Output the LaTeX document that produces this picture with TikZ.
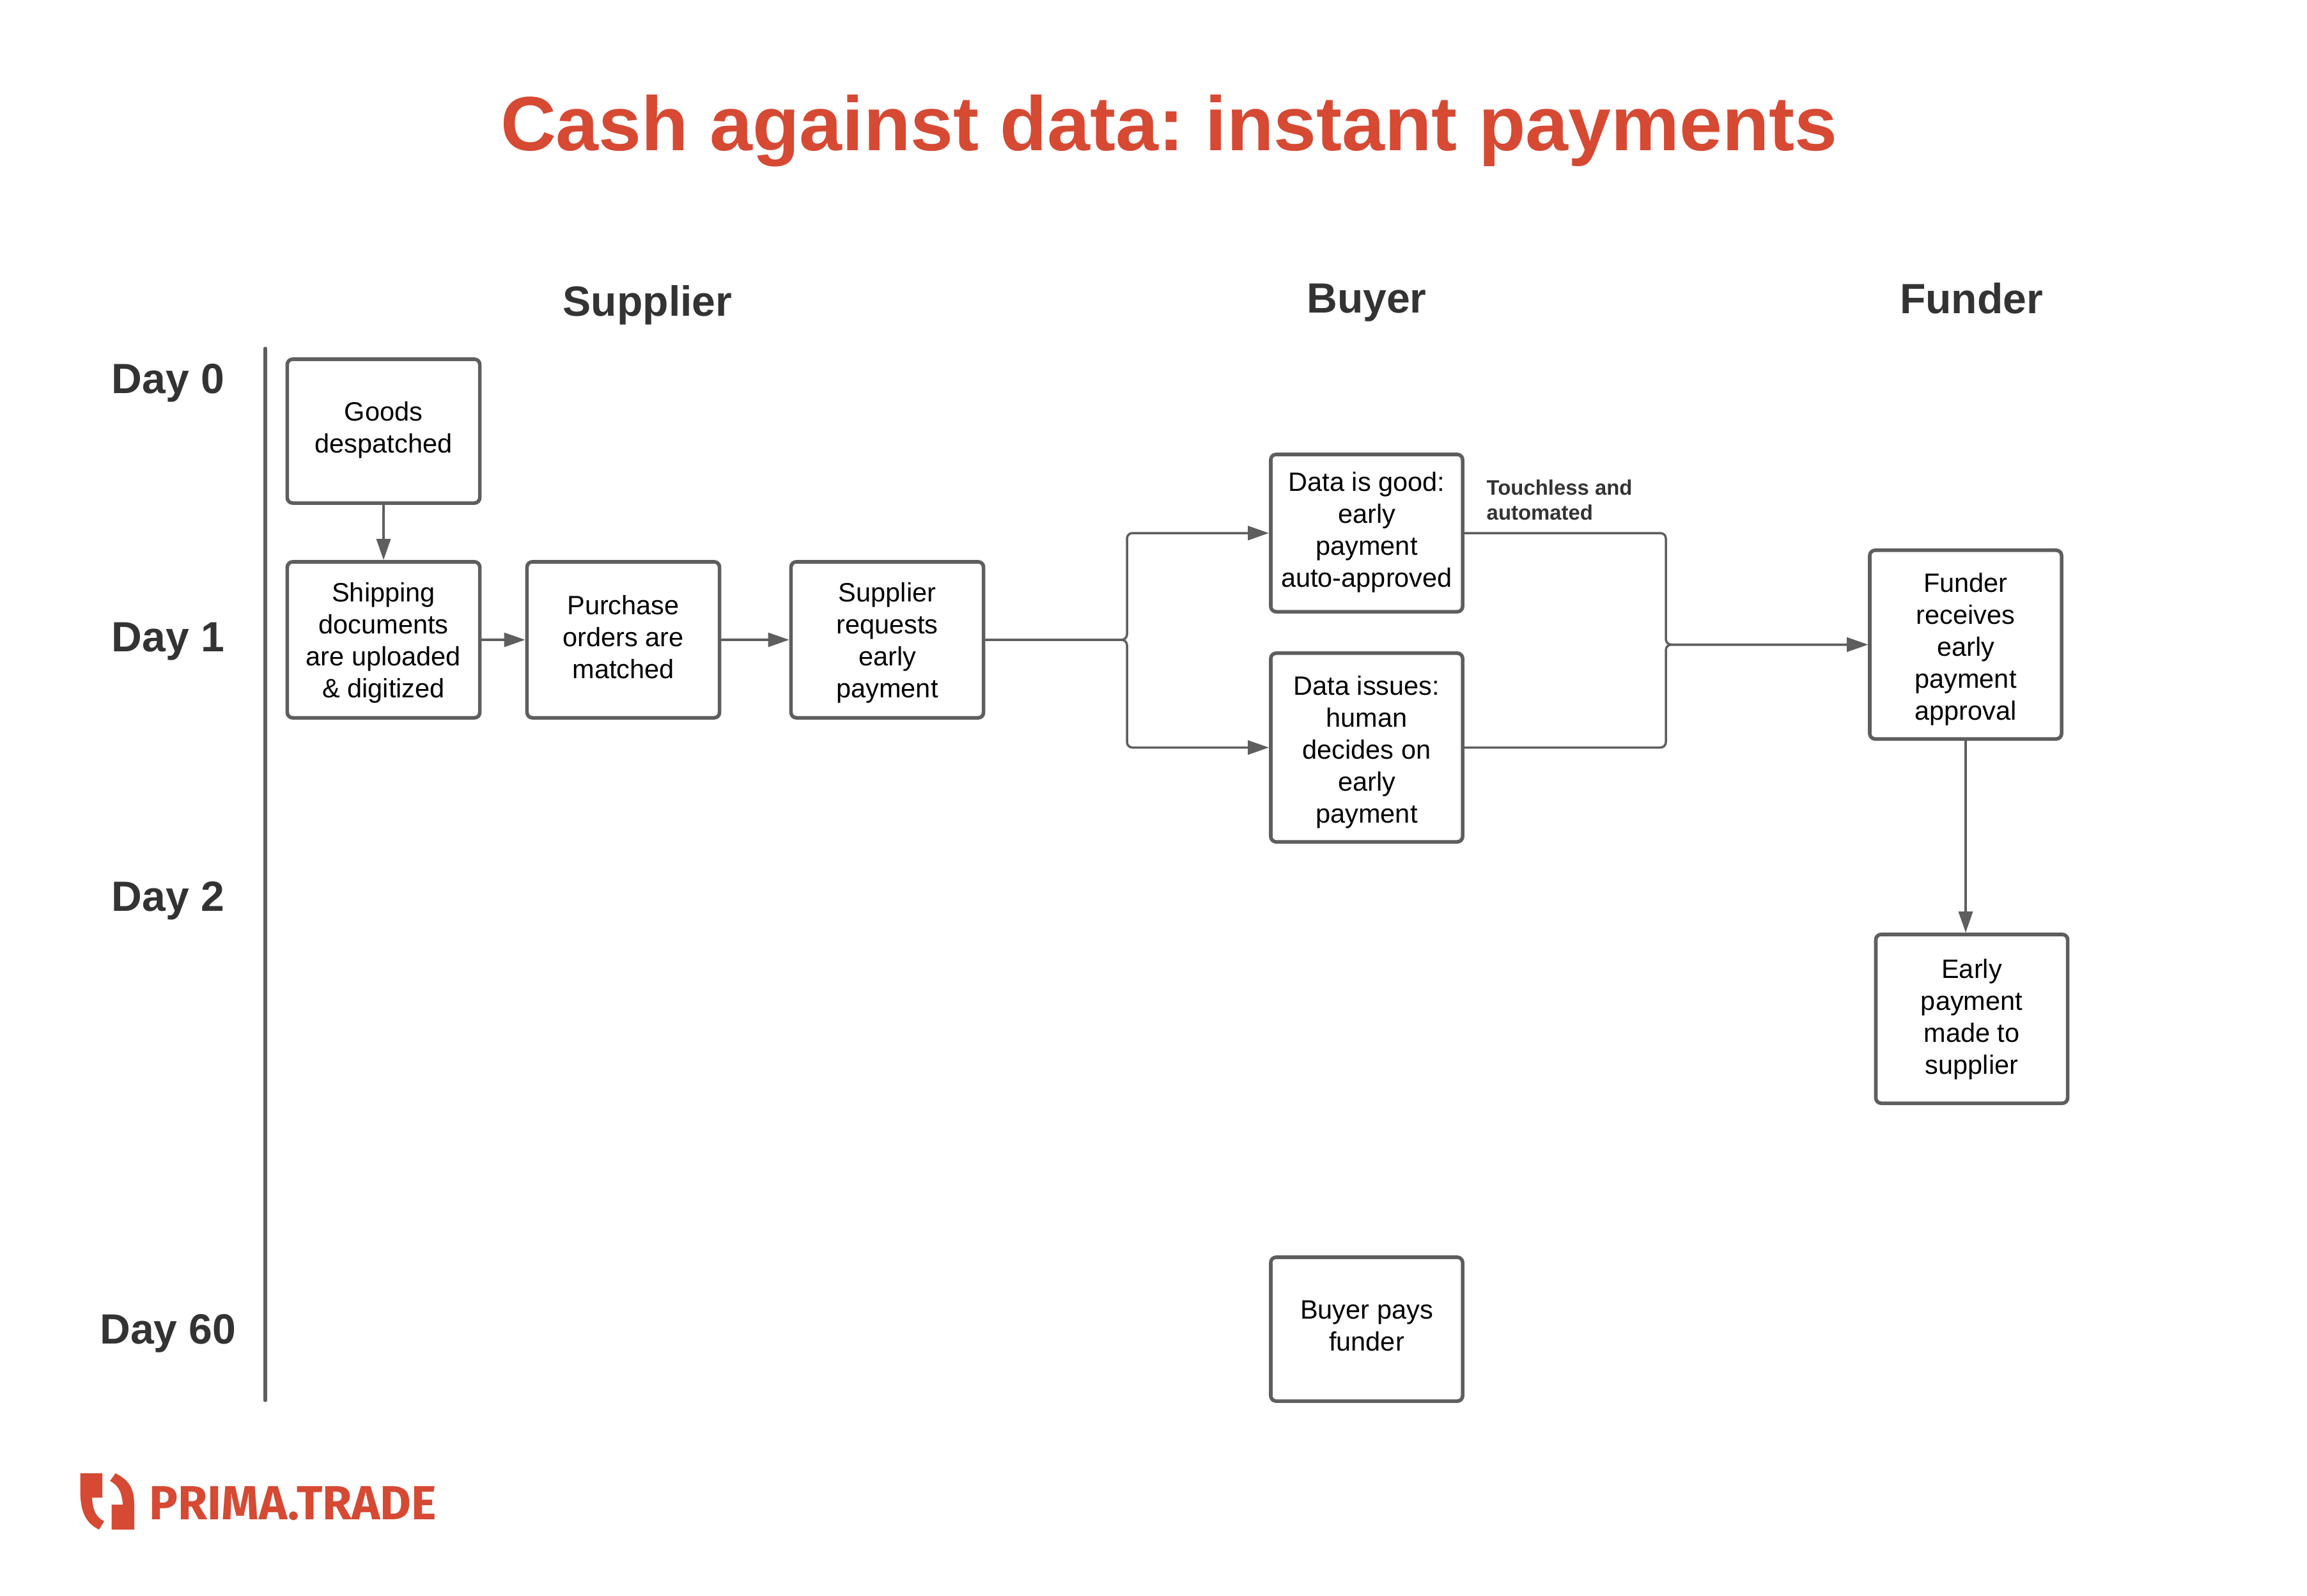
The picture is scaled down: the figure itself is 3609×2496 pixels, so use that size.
\documentclass[tikz,border=0pt]{standalone}
\usepackage{fontspec}
\setmainfont{Liberation Sans}
\newfontfamily\logofont{Fira Sans}
\usetikzlibrary{arrows.meta}
\definecolor{brandred}{HTML}{D64933}
\definecolor{linegray}{HTML}{5E5E5E}
\definecolor{headtext}{HTML}{333333}
\newcommand{\shiftup}[1]{\rule[-#1]{0pt}{#1}}
\newcommand{\pushdown}[1]{\rule{0pt}{\dimexpr8.6pt+2\dimexpr#1\relax\relax}}
\tikzset{
  boxnode/.style={draw=linegray,line width=1.6pt,rounded corners=2.4pt,fill=white,align=center,inner sep=0pt,text=black,
    font=\fontsize{11.8pt}{14.2pt}\selectfont},
  conn/.style={draw=linegray,line width=1pt,rounded corners=2.4pt},
  arr/.style={conn,-{Triangle[length=.33cm,width=.22cm]}},
  dayhead/.style={text=headtext,font=\fontsize{18.8pt}{22pt}\selectfont\bfseries,inner sep=0pt},
}
\begin{document}
\frenchspacing
\begin{tikzpicture}[x=0.01cm,y=-0.01cm]
\useasboundingbox (0,0) rectangle (3609,2496);
\node[text=brandred,font=\fontsize{34.2pt}{40pt}\selectfont\bfseries,inner sep=0pt] (title) at (1829,205) {Cash against data: instant payments};

\node[dayhead] (h1) at (1013,477) {Supplier};
\node[dayhead] (h2) at (2138,474) {Buyer};
\node[dayhead] (h3) at (3084,467) {Funder};
\node[dayhead] (d0) at (263,599) {Day 0};
\node[dayhead] (d1) at (263,1004) {Day 1};
\node[dayhead] (d2) at (263,1409) {Day 2};
\node[dayhead] (d60) at (263,2086) {Day 60};

\coordinate (axtop) at (415,545);
\coordinate (axbot) at (415,2191);
\draw[draw=linegray,line width=1.45pt,line cap=round] (axtop) -- (axbot);

\node[boxnode,minimum width=3.01cm,minimum height=2.25cm] (goods) at (600,674.5) {Goods\\despatched\shiftup{3.6pt}};
\node[boxnode,minimum width=3.01cm,minimum height=2.44cm] (ship) at (600,1001) {\pushdown{1.3pt}Shipping\\documents\\are uploaded\\\& digitized};
\node[boxnode,minimum width=3.01cm,minimum height=2.44cm] (po) at (975,1001) {Purchase\\orders are\\matched\shiftup{2.6pt}};
\node[boxnode,minimum width=3.01cm,minimum height=2.44cm] (req) at (1388,1001) {\pushdown{1.3pt}Supplier\\requests\\early\\payment};
\node[boxnode,minimum width=3cm,minimum height=2.46cm] (good) at (2138,834) {Data is good:\\early\\payment\\auto-approved\shiftup{3pt}};
\node[boxnode,minimum width=3cm,minimum height=2.95cm] (issues) at (2138,1169.5) {\pushdown{2pt}Data issues:\\human\\decides on\\early\\payment};
\node[boxnode,minimum width=3cm,minimum height=2.95cm] (fund) at (3075,1008.5) {\pushdown{2pt}Funder\\receives\\early\\payment\\approval};
\node[boxnode,minimum width=3cm,minimum height=2.64cm] (early) at (3084.5,1594) {\pushdown{0.3pt}Early\\payment\\made to\\supplier};
\node[boxnode,minimum width=3cm,minimum height=2.25cm] (pays) at (2138,2079.5) {Buyer pays\\funder\shiftup{3pt}};

\node[anchor=north west,align=left,inner sep=0pt,text=headtext,font=\fontsize{9.35pt}{11.1pt}\selectfont\bfseries] (touch) at (2325,750) {Touchless and\\automated};

\coordinate (fork) at (1763,1001);
\coordinate (join) at (2606,1008.5);

\draw[arr] (goods.south) -- (ship.north);
\draw[arr] (ship.east) -- (po.west);
\draw[arr] (po.east) -- (req.west);
\draw[arr] (req.east) -- (fork) |- (good.west);
\draw[arr] (req.east) -- (fork) |- (issues.west);
\draw[arr] (good.east) -| (join) -- (fund.west);
\draw[arr] (issues.east) -| (join) -- (fund.west);
\draw[arr] (fund.south) -- (fund.south |- early.north);

\fill[brandred] (125.5,2305) -- (160,2305) -- (160,2343) -- (144,2343)
  .. controls (145,2362) and (150,2374) .. (163,2380) -- (155,2393)
  .. controls (132,2382) and (125.5,2362) .. (125.5,2330) -- cycle;
\fill[brandred] (180.6,2305) -- (172,2317)
  .. controls (186,2324) and (191,2336) .. (192,2354) -- (174.5,2354) -- (174.5,2393) -- (210,2393) -- (210,2355)
  .. controls (210,2330) and (203,2316) .. (180.6,2305) -- cycle;
\node[anchor=west,inner sep=0pt,text=brandred,font=\logofont\bfseries\fontsize{21.3pt}{24pt}\selectfont] (logo) at (233,2352) {PRIMA.TRADE};
\end{tikzpicture}
\end{document}
